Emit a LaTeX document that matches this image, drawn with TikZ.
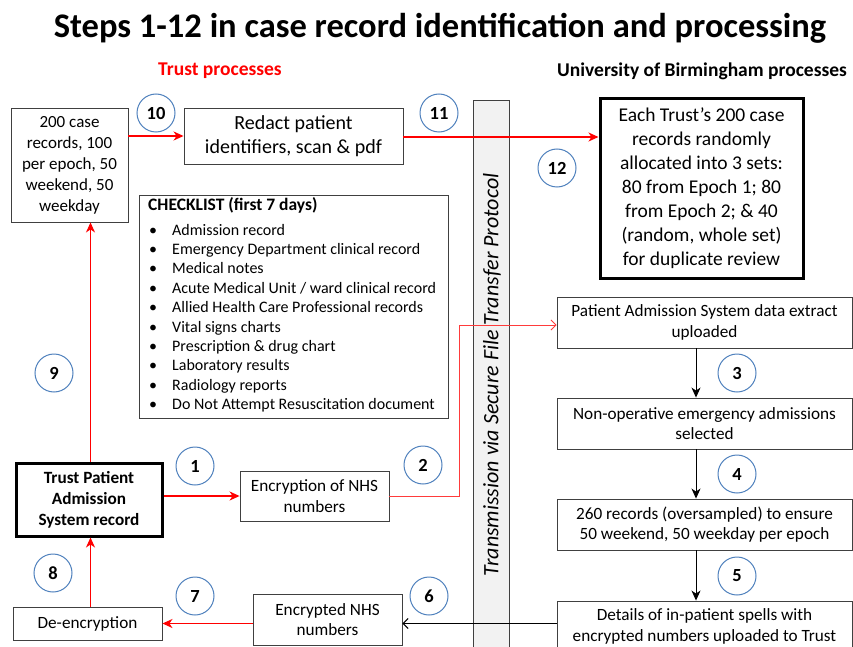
\documentclass[tikz,border=0pt]{standalone}
\usepackage{fontspec}
\setmainfont{Carlito}
\usetikzlibrary{arrows.meta,calc}
\definecolor{boxgray}{HTML}{404040}
\definecolor{circblue}{HTML}{4F81BD}
\definecolor{barfill}{HTML}{F2F2F2}
\definecolor{thinred}{HTML}{FF3B3B}
\newcommand\myfs[2]{\fontsize{#1}{#2}\selectfont}
\begin{document}
\begin{tikzpicture}[x=1pt,y=-1pt,
  box/.style={draw=boxgray, line width=0.9pt, align=center, inner sep=2pt},
  thickbox/.style={draw=black, line width=3pt, align=center, inner sep=2pt},
  stepnum/.style={circle, draw=circblue, line width=1pt, minimum size=38pt, inner sep=0pt, font=\myfs{18.5}{18}\bfseries},
  redarr/.style={draw=red, line width=1.4pt, -{Stealth[length=10pt,width=9pt,inset=3pt]}},
  thinredarr/.style={draw=thinred, line width=0.8pt, -{Straight Barb[length=5pt,width=10pt]}},
  blackarr/.style={draw=black, line width=1pt, -{Stealth[length=10pt,width=9pt,inset=3pt]}},
  blackbarb/.style={draw=black, line width=1pt, -{Straight Barb[length=5pt,width=10pt]}},
  boxtext/.style={font=\myfs{17.2}{20.5}},
  cltext/.style={anchor=west, inner sep=0pt, text height=11pt, text depth=3pt, font=\myfs{16}{19}}
]
\useasboundingbox (0,0) rectangle (853,647);
\clip (0,0) rectangle (853,647);
\fill[white] (0,0) rectangle (853,647);

% headings
\node (title) at (440,28) {\myfs{34.5}{38}\bfseries Steps 1-12 in case record identification and processing};
\node[text=red] (trusthead) at (220,71) {\myfs{19.5}{22}\bfseries Trust processes};
\node (unihead) at (702,71) {\myfs{19.5}{22}\bfseries University of Birmingham processes};

% transmission bar
\node[draw=boxgray, line width=0.8pt, fill=barfill, minimum width=36pt, minimum height=570pt, anchor=north] (bar) at (491,100) {};
\node[rotate=90, inner sep=0pt] (bartext) at (492,375) {\myfs{22}{24}\itshape Transmission via Secure File Transfer Protocol};

% Trust side boxes
\node[box, minimum width=117pt, minimum height=114pt, font=\myfs{17}{21}] (caseA) at (69.5,165)
  {200 case\\records, 100\\per epoch, 50\\weekend, 50\\weekday};
\node[box, minimum width=219pt, minimum height=56pt, font=\myfs{20}{24}] (redact) at (293.5,136)
  {Redact patient\\identifiers, scan \& pdf};
\node[thickbox, minimum width=146pt, minimum height=73pt, font=\myfs{17.2}{21}\bfseries] (trust) at (89,499.5)
  {Trust Patient\\Admission\\System record};
\node[box, boxtext, minimum width=149pt, minimum height=50pt] (encr) at (314.5,496)
  {Encryption of NHS\\numbers};
\node[box, boxtext, minimum width=149pt, minimum height=33pt] (deenc) at (87.5,623.5)
  {De-encryption};
\node[box, boxtext, minimum width=149pt, minimum height=51pt] (encnum) at (327.5,619.5)
  {Encrypted NHS\\numbers};

% checklist
\node[box, minimum width=309pt, minimum height=223pt] (checklist) at (293.5,306.5) {};
\node[anchor=west, inner sep=0pt, text height=12pt, text depth=3pt, font=\myfs{17.5}{19}\bfseries] (cltitle) at (148,206) {CHECKLIST (first 7 days)};
\foreach \t [count=\i] in {Admission record, Emergency Department clinical record, Medical notes,
  Acute Medical Unit / ward clinical record, Allied Health Care Professional records,
  Vital signs charts, Prescription \& drug chart, Laboratory results, Radiology reports,
  Do Not Attempt Resuscitation document}{
  \node[cltext] (clb\i) at (149,{231+19.4*(\i-1)}) {\textbullet};
  \node[cltext] (cl\i) at (172,{231+19.4*(\i-1)}) {\t};
}

% University side boxes
\node[thickbox, minimum width=203pt, minimum height=179pt, font=\myfs{19.5}{24}] (alloc) at (701.5,188.5)
  {Each Trust’s 200 case\\records randomly\\allocated into 3 sets:\\80 from Epoch 1; 80\\from Epoch 2; \& 40\\(random, whole set)\\for duplicate review};
\node[box, boxtext, minimum width=295pt, minimum height=51pt] (pas) at (704.5,322.5)
  {Patient Admission System data extract\\uploaded};
\node[box, boxtext, minimum width=295pt, minimum height=51pt] (nonop) at (704.5,423.5)
  {Non-operative emergency admissions\\selected};
\node[box, boxtext, minimum width=295pt, minimum height=51pt] (rec) at (704.5,524.5)
  {260 records (oversampled) to ensure\\50 weekend, 50 weekday per epoch};
\node[box, boxtext, minimum width=295pt, minimum height=51pt] (details) at (704.5,626.5)
  {Details of in-patient spells with\\encrypted numbers uploaded to Trust};

% connectors
\draw[redarr] (trust.east |- encr.west) -- (encr.west);
\draw[thinredarr] (encr.east) -- ++(70,0) |- ($(pas.west)+(0,2.5)$);
\draw[blackarr] ([xshift=-8.5pt]pas.south) -- ([xshift=-8.5pt]nonop.north);
\draw[blackarr] ([xshift=-8.5pt]nonop.south) -- ([xshift=-8.5pt]rec.north);
\draw[blackarr] ([xshift=-8.5pt]rec.south) -- ([xshift=-8.5pt]details.north);
\draw[blackbarb] (details.west |- deenc.east) -- (encnum.east |- deenc.east);
\draw[redarr] (encnum.west |- deenc.east) -- (deenc.east);
\draw[redarr] ([xshift=3pt]deenc.north) -- ([xshift=3pt]deenc.north |- trust.south);
\draw[redarr] ([xshift=1.5pt]trust.north) -- ([xshift=1.5pt]trust.north |- caseA.south);
\draw[redarr] (caseA.east |- redact.west) -- (redact.west);
\draw[redarr] ($(redact.east)+(0,1)$) -- ($(redact.east -| alloc.west)+(0,1)$);

% step numbers
\node[stepnum] (s1) at (195,466) {1};
\node[stepnum] (s2) at (423,465) {2};
\node[stepnum] (s3) at (737,373) {3};
\node[stepnum] (s4) at (737,474) {4};
\node[stepnum] (s5) at (737,576) {5};
\node[stepnum] (s6) at (429,596) {6};
\node[stepnum] (s7) at (195,596) {7};
\node[stepnum] (s8) at (53,573) {8};
\node[stepnum] (s9) at (54,373) {9};
\node[stepnum] (s10) at (156,113) {10};
\node[stepnum] (s11) at (439,113) {11};
\node[stepnum] (s12) at (557,168) {12};
\end{tikzpicture}
\end{document}
